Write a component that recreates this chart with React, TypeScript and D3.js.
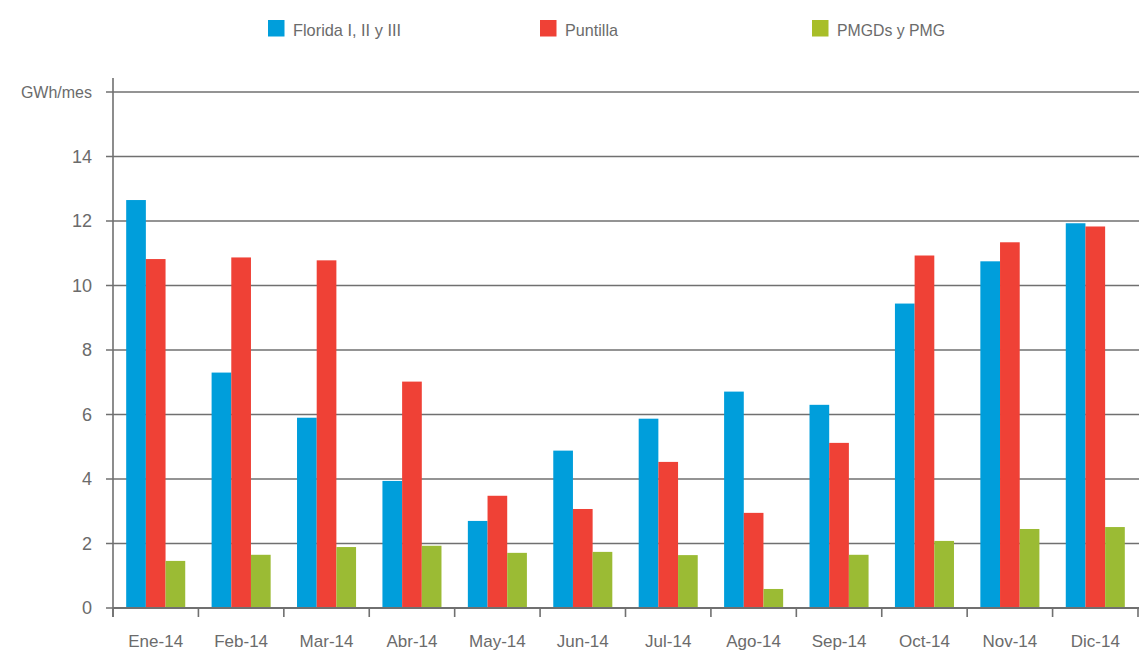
import React from "react";
import * as d3 from "d3";

const months = ["Ene-14", "Feb-14", "Mar-14", "Abr-14", "May-14", "Jun-14", "Jul-14", "Ago-14", "Sep-14", "Oct-14", "Nov-14", "Dic-14"];
const seriesNames = ["Florida I, II y III", "Puntilla", "PMGDs y PMG"];
const florida = [12.65, 7.3, 5.9, 3.94, 2.7, 4.88, 5.87, 6.71, 6.3, 9.44, 10.75, 11.93];
const puntilla = [10.82, 10.87, 10.78, 7.02, 3.48, 3.07, 4.53, 2.95, 5.12, 10.93, 11.34, 11.83];
const pmgd = [1.46, 1.65, 1.89, 1.93, 1.71, 1.74, 1.64, 0.59, 1.65, 2.08, 2.45, 2.51];
const yTicks = [0, 2, 4, 6, 8, 10, 12, 14];
const unitLabel = "GWh/mes";
const unitValue = 16;

const colors = ["#009EDB", "#EF4136", "#9BBB34"];
const legendColors = ["#009EDB", "#EF4136", "#A8BE28"];

const W = 1139;
const H = 653;
const left = 113;
const right = 1138;
const bottom = 608;
const top = 92;

export default function App() {
  const values = [florida, puntilla, pmgd];
  const x0 = d3.scaleBand<string>().domain(months).range([left, right]).paddingInner(0).paddingOuter(0);
  const x1 = d3.scaleBand<string>().domain(seriesNames).range([0, x0.bandwidth()]).paddingInner(0).paddingOuter(0.67);
  const y = d3.scaleLinear().domain([0, unitValue]).range([bottom, top]);
  const axisColor = "#707070";
  const textColor = "#6b6b6b";
  const font = "'Liberation Sans', Arial, sans-serif";
  const legendX = [268, 540, 812];
  const legendTextWidth = [108, 53, 108];

  const boundaries = months.map((m) => x0(m) as number).concat([right]);

  return (
    <svg width={W} height={H} style={{ position: "absolute", left: 0, top: 0 }} fontFamily={font}>
      <rect width={W} height={H} fill="#fff" />
      {/* legend */}
      {seriesNames.map((s, i) => (
        <g key={s}>
          <rect x={legendX[i]} y={20} width={16.5} height={16.5} fill={legendColors[i]} />
          <text
            x={legendX[i] + 25}
            y={35.5}
            fontSize={17}
            fill={textColor}
            textLength={legendTextWidth[i]}
            lengthAdjust="spacingAndGlyphs"
          >
            {s}
          </text>
        </g>
      ))}
      {/* gridlines */}
      {[...yTicks, unitValue].map((t) => (
        <g key={t}>
          <line x1={106} x2={W} y1={y(t)} y2={y(t)} stroke={axisColor} strokeWidth={1.6} />
          <text x={92} y={y(t) + 6} textAnchor="end" fontSize={t === unitValue ? 16 : 18} fill={textColor}>
            {t === unitValue ? unitLabel : t}
          </text>
        </g>
      ))}
      {/* bars */}
      {months.map((m, mi) => (
        <g key={m} transform={`translate(${x0(m)},0)`}>
          {seriesNames.map((s, si) => (
            <rect
              key={s}
              x={x1(s)}
              y={y(values[si][mi])}
              width={x1.bandwidth()}
              height={bottom - y(values[si][mi])}
              fill={colors[si]}
            />
          ))}
        </g>
      ))}
      {/* axes */}
      <line x1={left} x2={left} y1={78} y2={617} stroke={axisColor} strokeWidth={1.6} />
      <line x1={left} x2={W} y1={bottom} y2={bottom} stroke={axisColor} strokeWidth={1.8} />
      {boundaries.map((b, i) => (
        <line key={i} x1={b} x2={b} y1={bottom} y2={617} stroke={axisColor} strokeWidth={1.6} />
      ))}
      {months.map((m) => (
        <text key={m} x={(x0(m) as number) + x0.bandwidth() / 2} y={647} textAnchor="middle" fontSize={17} fill={textColor}>
          {m}
        </text>
      ))}
    </svg>
  );
}
